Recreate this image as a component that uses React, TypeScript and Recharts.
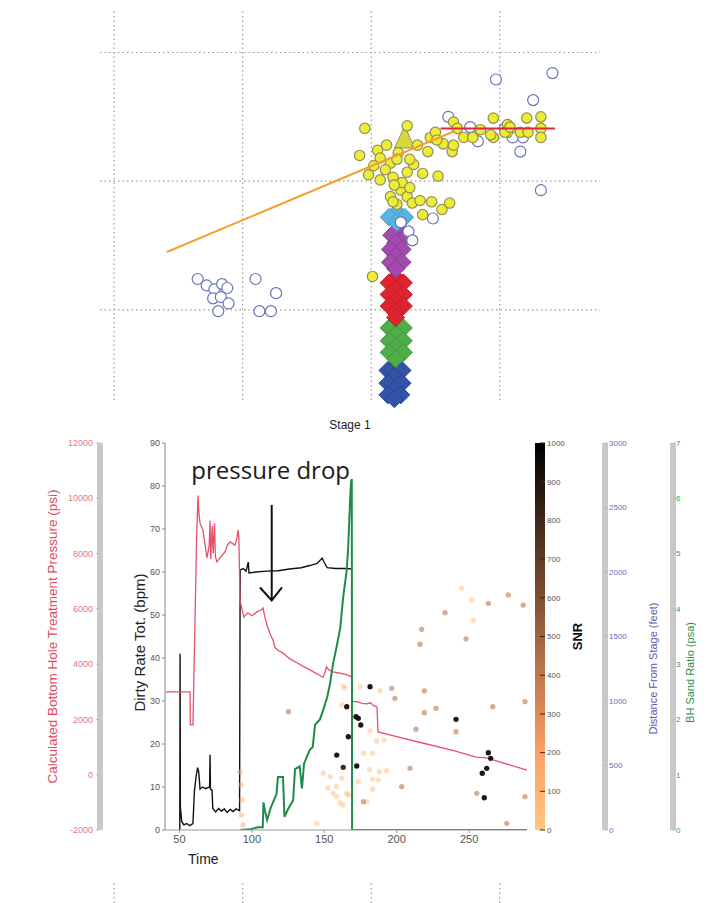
import React from 'react';
import {
  ScatterChart, ComposedChart, Scatter, Line, XAxis, YAxis, ZAxis,
  ReferenceLine, ReferenceDot, Cell,
} from 'recharts';

// ---------- top panel: microseismic event map (grid spacing = 100 units)
const gridX = [0, 100, 200, 300];
const gridY = [0, 100, 200];

const openEvents = [
  { x: 65, y: 24 }, { x: 72, y: 19 }, { x: 78, y: 16 }, { x: 84, y: 20 }, { x: 88, y: 17 },
  { x: 77, y: 9 }, { x: 83, y: 10 }, { x: 89, y: 5 }, { x: 81, y: -1 }, { x: 110, y: 24 },
  { x: 126, y: 13 }, { x: 113, y: -1 }, { x: 122, y: -1 },
  { x: 297, y: 179 }, { x: 341, y: 184 }, { x: 326, y: 163 }, { x: 316, y: 123 }, { x: 332, y: 93 },
  { x: 260, y: 150 }, { x: 283, y: 131 }, { x: 318, y: 134 }, { x: 277, y: 142 }, { x: 304, y: 141 },
  { x: 310, y: 134 }, { x: 223, y: 68 }, { x: 229, y: 61 }, { x: 232, y: 54 }, { x: 248, y: 71 },
];

const yellowEvents = [
  { x: 195, y: 141 }, { x: 228, y: 143 }, { x: 191, y: 120 }, { x: 205, y: 124 }, { x: 207, y: 118 },
  { x: 215, y: 114 }, { x: 221, y: 122 }, { x: 198, y: 105 }, { x: 207, y: 101 }, { x: 217, y: 103 },
  { x: 228, y: 107 }, { x: 233, y: 113 }, { x: 240, y: 106 }, { x: 252, y: 104 }, { x: 244, y: 123 },
  { x: 246, y: 134 }, { x: 250, y: 138 }, { x: 256, y: 129 }, { x: 263, y: 123 }, { x: 264, y: 128 },
  { x: 264, y: 146 }, { x: 267, y: 141 }, { x: 272, y: 134 }, { x: 279, y: 134 }, { x: 295, y: 149 },
  { x: 295, y: 134 }, { x: 306, y: 144 }, { x: 306, y: 138 }, { x: 316, y: 138 }, { x: 321, y: 149 },
  { x: 332, y: 150 }, { x: 332, y: 141 }, { x: 332, y: 134 }, { x: 215, y: 88 }, { x: 223, y: 93 },
  { x: 228, y: 88 }, { x: 220, y: 82 }, { x: 232, y: 83 }, { x: 238, y: 85 }, { x: 247, y: 84 },
  { x: 255, y: 78 }, { x: 261, y: 83 }, { x: 240, y: 74 }, { x: 220, y: 117 }, { x: 230, y: 117 },
  { x: 201, y: 26 }, { x: 251, y: 132 }, { x: 224, y: 99 }, { x: 217, y: 84 }, { x: 230, y: 95 },
  { x: 293, y: 136 }, { x: 304, y: 138 }, { x: 308, y: 142 }, { x: 322, y: 138 }, { x: 211, y: 109 },
  { x: 218, y: 97 }, { x: 212, y: 128 }, { x: 236, y: 128 }, { x: 202, y: 112 }, { x: 285, y: 140 },
];

const cyanStage = [{ x: 220, y: 76 }, { x: 214, y: 72 }, { x: 226, y: 72 }, { x: 220, y: 68 }];
const purpleStage = [
  { x: 221, y: 62 }, { x: 216, y: 58 }, { x: 226, y: 56 }, { x: 219, y: 52 }, { x: 215, y: 47 },
  { x: 224, y: 47 }, { x: 219, y: 42 }, { x: 215, y: 37 }, { x: 224, y: 37 }, { x: 219, y: 32 },
];
const redStage = [
  { x: 219, y: 25 }, { x: 214, y: 21 }, { x: 225, y: 21 }, { x: 219, y: 16 }, { x: 214, y: 12 },
  { x: 225, y: 12 }, { x: 219, y: 7 }, { x: 214, y: 3 }, { x: 225, y: 3 }, { x: 219, y: -2 }, { x: 219, y: -6 },
];
const greenStage = [
  { x: 219, y: -10 }, { x: 214, y: -14 }, { x: 225, y: -14 }, { x: 219, y: -19 }, { x: 214, y: -24 },
  { x: 225, y: -24 }, { x: 219, y: -29 }, { x: 214, y: -33 }, { x: 225, y: -33 }, { x: 219, y: -38 },
];
const blueStage = [
  { x: 219, y: -43 }, { x: 213, y: -47 }, { x: 224, y: -47 }, { x: 218, y: -52 }, { x: 213, y: -57 },
  { x: 224, y: -57 }, { x: 218, y: -62 }, { x: 213, y: -66 }, { x: 223, y: -66 }, { x: 218, y: -69 },
];
const triangleEvents = [{ x: 226, y: 132 }];
const orangeFit = [{ x: 41, y: 45 }, { x: 265, y: 139 }];
const redFit = [{ x: 254, y: 141 }, { x: 343, y: 141 }];

// ---------- bottom panel: treatment data
const timeTicks = [50, 100, 150, 200, 250];
const rateTicks = [0, 10, 20, 30, 40, 50, 60, 70, 80, 90];
const pressureTicks = [-2000, 0, 2000, 4000, 6000, 8000, 10000, 12000];
const snrTicks = [0, 100, 200, 300, 400, 500, 600, 700, 800, 900, 1000];
const distTicks = [0, 500, 1000, 1500, 2000, 2500, 3000];
const sandTicks = [0, 1, 2, 3, 4, 5, 6, 7];

const pressure = [
  { t: 40.5, p: 3000 }, { t: 57.3, p: 3000 }, { t: 57.5, p: 1800 }, { t: 59.3, p: 1800 }, { t: 60.5, p: 5000 },
  { t: 61.8, p: 8500 }, { t: 62.8, p: 10100 }, { t: 63.5, p: 9400 }, { t: 64.2, p: 9100 }, { t: 66.2, p: 8850 },
  { t: 68, p: 8200 }, { t: 69, p: 7840 }, { t: 70.5, p: 8300 }, { t: 71.1, p: 9200 }, { t: 71.6, p: 7800 },
  { t: 72.6, p: 9000 }, { t: 73.3, p: 8000 }, { t: 74.2, p: 9100 }, { t: 74.8, p: 7900 }, { t: 75.9, p: 7700 },
  { t: 78, p: 7850 }, { t: 81.4, p: 8060 }, { t: 83, p: 8300 }, { t: 84.9, p: 8420 }, { t: 87, p: 8350 },
  { t: 88.3, p: 8300 }, { t: 89.7, p: 8560 }, { t: 90.4, p: 8850 }, { t: 91, p: 8600 }, { t: 91.8, p: 6300 },
  { t: 93.2, p: 6000 }, { t: 94.5, p: 5700 }, { t: 96, p: 5800 }, { t: 97.3, p: 5850 }, { t: 100, p: 5750 },
  { t: 103.5, p: 5890 }, { t: 106, p: 5950 }, { t: 107.7, p: 6030 }, { t: 109, p: 5700 }, { t: 110.5, p: 5400 },
  { t: 112.5, p: 5100 }, { t: 114.6, p: 4870 }, { t: 116, p: 4600 }, { t: 118, p: 4500 }, { t: 121.5, p: 4400 },
  { t: 126, p: 4200 }, { t: 131.2, p: 4050 }, { t: 136, p: 3900 }, { t: 140.1, p: 3790 }, { t: 145, p: 3650 },
  { t: 149.1, p: 3520 }, { t: 150.5, p: 3700 }, { t: 151.5, p: 3900 }, { t: 153, p: 3800 }, { t: 156, p: 3720 },
  { t: 160, p: 3680 }, { t: 165.7, p: 3610 }, { t: 169, p: 3540 }, { t: 169.5, p: 2650 }, { t: 173, p: 2640 },
  { t: 176, p: 2580 }, { t: 179, p: 2560 }, { t: 182, p: 2600 }, { t: 184, p: 2500 }, { t: 186.4, p: 2450 },
  { t: 187.1, p: 1550 }, { t: 200, p: 1380 }, { t: 220, p: 1120 }, { t: 240, p: 860 }, { t: 255, p: 640 },
  { t: 262, p: 610 }, { t: 270, p: 480 }, { t: 290, p: 170 },
];

const rate = [
  { t: 50.2, r: 0 }, { t: 50.4, r: 41 }, { t: 50.6, r: 5.5 }, { t: 51.5, r: 2 }, { t: 53, r: 1.2 },
  { t: 55, r: 1.5 }, { t: 57, r: 1 }, { t: 59.3, r: 1.5 }, { t: 60.3, r: 9 }, { t: 61.5, r: 12.5 },
  { t: 62.5, r: 14.5 }, { t: 63.3, r: 13.5 }, { t: 64.2, r: 9.5 }, { t: 66, r: 10 }, { t: 68, r: 9.6 },
  { t: 70.8, r: 10 }, { t: 71.1, r: 17.5 }, { t: 71.4, r: 9.5 }, { t: 72.5, r: 9.2 }, { t: 73, r: 5 },
  { t: 75, r: 4.2 }, { t: 77, r: 5 }, { t: 79, r: 4.4 }, { t: 81, r: 4.9 }, { t: 83, r: 4.1 },
  { t: 85, r: 4.8 }, { t: 87, r: 4.3 }, { t: 89, r: 4.9 }, { t: 91.5, r: 4.5 }, { t: 91.9, r: 60.5 },
  { t: 94, r: 60.8 }, { t: 96, r: 60.2 }, { t: 97.5, r: 62.3 }, { t: 98, r: 59.8 }, { t: 103, r: 60 },
  { t: 110, r: 60.2 }, { t: 118, r: 60.3 }, { t: 126, r: 60.7 }, { t: 134, r: 61 }, { t: 140, r: 61.5 },
  { t: 145, r: 62 }, { t: 148.5, r: 63.2 }, { t: 150, r: 62.2 }, { t: 152, r: 61 }, { t: 158, r: 60.8 },
  { t: 165, r: 60.8 }, { t: 169, r: 60.7 },
];

const sand = [
  { t: 92, s: 0 }, { t: 100, s: 0.02 }, { t: 104, s: 0.05 }, { t: 107.5, s: 0.05 }, { t: 108, s: 0.5 },
  { t: 109, s: 0.35 }, { t: 110.5, s: 0.18 }, { t: 113, s: 0.4 }, { t: 117, s: 0.65 }, { t: 118, s: 0.96 },
  { t: 121.5, s: 0.96 }, { t: 122.5, s: 0.24 }, { t: 125, s: 0.38 }, { t: 128.5, s: 0.54 }, { t: 129.8, s: 1.1 },
  { t: 133, s: 1.15 }, { t: 134.6, s: 0.75 }, { t: 136, s: 1.2 }, { t: 140, s: 1.45 }, { t: 142, s: 1.5 },
  { t: 143.6, s: 1.9 }, { t: 147, s: 2.0 }, { t: 149, s: 2.15 }, { t: 152, s: 2.4 }, { t: 154, s: 2.65 },
  { t: 156, s: 3.0 }, { t: 158.8, s: 3.35 }, { t: 161, s: 3.65 }, { t: 163, s: 4.2 }, { t: 165.5, s: 4.7 },
  { t: 166.5, s: 5.1 }, { t: 167.8, s: 5.95 }, { t: 168.5, s: 6.3 }, { t: 169, s: 6.35 }, { t: 169.2, s: 0 },
  { t: 290, s: 0 },
];

// microseismic events: time, distance from stage (ft), SNR
const events = [
  { t: 244.9, d: 1874, snr: 80 }, { t: 251.8, d: 1783, snr: 80 }, { t: 277.1, d: 1822, snr: 450 },
  { t: 287.4, d: 1744, snr: 450 }, { t: 263.3, d: 1757, snr: 450 }, { t: 233.4, d: 1685, snr: 450 },
  { t: 252.9, d: 1623, snr: 80 }, { t: 217.3, d: 1556, snr: 450 }, { t: 247.9, d: 1481, snr: 450 },
  { t: 216.1, d: 1440, snr: 450 }, { t: 181.6, d: 1111, snr: 950 }, { t: 196.6, d: 1098, snr: 450 },
  { t: 188.5, d: 1078, snr: 80 }, { t: 219.1, d: 1078, snr: 450 }, { t: 174.7, d: 1111, snr: 80 },
  { t: 163.1, d: 1116, snr: 80 }, { t: 198.8, d: 1021, snr: 450 }, { t: 266.3, d: 956, snr: 450 },
  { t: 288.6, d: 995, snr: 450 }, { t: 227.2, d: 943, snr: 450 }, { t: 219.1, d: 909, snr: 450 },
  { t: 241, d: 858, snr: 950 }, { t: 241, d: 762, snr: 450 }, { t: 213.3, d: 781, snr: 450 },
  { t: 175.2, d: 814, snr: 950 }, { t: 171.9, d: 878, snr: 950 }, { t: 165.5, d: 956, snr: 950 },
  { t: 181.6, d: 770, snr: 80 }, { t: 186.2, d: 690, snr: 80 }, { t: 191.2, d: 698, snr: 80 },
  { t: 158.6, d: 581, snr: 950 }, { t: 177, d: 595, snr: 80 }, { t: 183.4, d: 595, snr: 80 },
  { t: 263.3, d: 599, snr: 950 }, { t: 264.9, d: 556, snr: 950 }, { t: 262.2, d: 478, snr: 950 },
  { t: 259.1, d: 440, snr: 950 }, { t: 163.1, d: 486, snr: 900 }, { t: 172.4, d: 496, snr: 950 },
  { t: 181.1, d: 470, snr: 80 }, { t: 188, d: 452, snr: 80 }, { t: 193.1, d: 460, snr: 80 },
  { t: 209.2, d: 478, snr: 450 }, { t: 183.4, d: 395, snr: 80 }, { t: 187.3, d: 388, snr: 80 },
  { t: 173.5, d: 374, snr: 80 }, { t: 162, d: 401, snr: 80 }, { t: 158.6, d: 336, snr: 80 },
  { t: 203.5, d: 336, snr: 450 }, { t: 183.4, d: 316, snr: 80 }, { t: 255.3, d: 284, snr: 450 },
  { t: 260.5, d: 250, snr: 950 }, { t: 288.6, d: 258, snr: 450 }, { t: 179.3, d: 219, snr: 80 },
  { t: 166.6, d: 271, snr: 80 }, { t: 160.9, d: 212, snr: 80 }, { t: 276, d: 52, snr: 450 },
  { t: 156.2, d: 284, snr: 80 }, { t: 125.2, d: 917, snr: 450 }, { t: 154, d: 413, snr: 80 },
  { t: 149.3, d: 440, snr: 80 }, { t: 144.8, d: 52, snr: 80 }, { t: 162, d: 969, snr: 80 },
  { t: 164.3, d: 1101, snr: 80 }, { t: 166.6, d: 723, snr: 950 }, { t: 173.5, d: 866, snr: 950 },
  { t: 158.6, d: 258, snr: 80 }, { t: 165.5, d: 284, snr: 80 }, { t: 177, d: 219, snr: 450 },
  { t: 162.9, d: 194, snr: 80 }, { t: 152.6, d: 326, snr: 80 },
  { t: 92.5, d: 349, snr: 200 }, { t: 93.2, d: 233, snr: 200 }, { t: 92.5, d: 116, snr: 200 },
  { t: 93.9, d: 39, snr: 200 }, { t: 91.8, d: 450, snr: 200 },
];

const arrowShaft = [{ t: 113.7, r: 75.6 }, { t: 113.7, r: 53.6 }];
const arrowHead = [{ t: 105.6, r: 56.4 }, { t: 113.7, r: 53.4 }, { t: 120.8, r: 56.4 }];

// reversed "copper" colormap: 0 -> light orange, 1000 -> black
const copper = (snr: number) => {
  const k = 1 - snr / 1000;
  const r = Math.min(1, 1.25 * k);
  const g = 0.7812 * k;
  const b = 0.4975 * k;
  return `rgb(${Math.round(r * 255)},${Math.round(g * 255)},${Math.round(b * 255)})`;
};

const diamond = (fill: string, stroke: string) => (props: any) => {
  const { cx, cy } = props;
  return (
    <polygon
      points={`${cx},${cy - 9} ${cx + 9},${cy} ${cx},${cy + 9} ${cx - 9},${cy}`}
      fill={fill}
      stroke={stroke}
      strokeWidth={1}
    />
  );
};

const spike = (props: any) => {
  const { cx, cy } = props;
  return (
    <polygon
      points={`${cx},${cy - 14} ${cx + 10},${cy + 8} ${cx - 10},${cy + 8}`}
      fill="#d6d83c"
      stroke="#8f8f5c"
      strokeWidth={1}
    />
  );
};

const dot = (fill: string, stroke: string, r: number) => (props: any) => (
  <circle cx={props.cx} cy={props.cy} r={r} fill={fill} stroke={stroke} strokeWidth={1.2} />
);

const noShape = () => <g />;

const PLOT_TOP = 10;
const PLOT_H = 387;

// axis ids are sorted by name when stacked, so the prefixes fix the order
const Y_RATE = 'L1rate';
const Y_PRESS = 'L2press';
const Y_GAP = 'R1gap';
const Y_SNR = 'R2snr';
const Y_DIST = 'R3dist';
const Y_SAND = 'R4sand';

export default function App() {
  const tickFont = { fontSize: 9, fill: '#555' };

  return (
    <div style={{ position: 'absolute', left: 0, top: 0, width: 718, height: 903, background: '#fff', fontFamily: '"Liberation Sans", Arial, sans-serif' }}>
      {/* event map */}
      <div style={{ position: 'absolute', left: 0, top: 0 }}>
        <ScatterChart width={718} height={450} margin={{ top: 10, right: 118, bottom: 0, left: 100 }}>
          <XAxis
            type="number" dataKey="x" domain={[-11, 378]} height={50}
            tick={false} tickLine={false} axisLine={false}
            label={{ value: 'Stage 1', position: 'center', fontSize: 12, fill: '#222' }}
          />
          <YAxis type="number" dataKey="y" domain={[-70, 233]} hide />
          {gridX.map((v) => (
            <ReferenceLine key={`gx${v}`} x={v} stroke="#9a9a9a" strokeWidth={1.2} strokeDasharray="1.5 3" />
          ))}
          {gridY.map((v) => (
            <ReferenceLine key={`gy${v}`} y={v} stroke="#9a9a9a" strokeWidth={1.2} strokeDasharray="1.5 3" />
          ))}
          <Scatter data={blueStage} shape={diamond('#3553a6', '#2a4590')} isAnimationActive={false} />
          <Scatter data={greenStage} shape={diamond('#4fae4a', '#3d9a3a')} isAnimationActive={false} />
          <Scatter data={redStage} shape={diamond('#e0242f', '#c01c28')} isAnimationActive={false} />
          <Scatter data={purpleStage} shape={diamond('#a24aae', '#8c3a98')} isAnimationActive={false} />
          <Scatter data={cyanStage} shape={diamond('#5ab4e2', '#4a9cc8')} isAnimationActive={false} />
          <Scatter data={openEvents} shape={dot('#fff', '#6676b4', 5.5)} isAnimationActive={false} />
          <Scatter data={triangleEvents} shape={spike} isAnimationActive={false} />
          <Scatter data={yellowEvents} shape={dot('#eeec34', '#8f8f5c', 5.2)} isAnimationActive={false} />
          <Scatter data={orangeFit} shape={noShape} line={{ stroke: '#f2a12e', strokeWidth: 2 }} isAnimationActive={false} />
          <Scatter data={redFit} shape={noShape} line={{ stroke: '#d42a48', strokeWidth: 2 }} isAnimationActive={false} />
        </ScatterChart>
      </div>

      {/* treatment plot */}
      <div style={{ position: 'absolute', left: 0, top: 433 }}>
        <ComposedChart width={718} height={454} margin={{ top: PLOT_TOP, right: 5, bottom: 0, left: 10 }}>
          <defs>
            <linearGradient id="snrGrad" gradientUnits="userSpaceOnUse" x1={0} y1={PLOT_TOP + PLOT_H} x2={0} y2={PLOT_TOP}>
              <stop offset="0" stopColor={copper(0)} />
              <stop offset="0.2" stopColor={copper(200)} />
              <stop offset="0.5" stopColor={copper(500)} />
              <stop offset="0.8" stopColor={copper(800)} />
              <stop offset="1" stopColor={copper(1000)} />
            </linearGradient>
          </defs>
          <XAxis
            type="number" dataKey="t" domain={[40, 290]} ticks={timeTicks} height={57}
            stroke="#999" tickSize={3} tickMargin={2} tick={{ fontSize: 11, fill: '#555' }}
            label={{ value: 'Time', position: 'insideBottomLeft', offset: 23, fontSize: 14, fill: '#222' }}
          />
          <YAxis
            yAxisId={Y_RATE} type="number" domain={[0, 90]} ticks={rateTicks} width={65} allowDataOverflow
            stroke="#888" tickSize={3} tickMargin={2} tick={tickFont}
            label={{ value: 'Dirty Rate Tot. (bpm)', angle: -90, position: 'insideLeft', offset: 40, dy: 6, fontSize: 15, fill: '#222', style: { textAnchor: 'middle' } }}
          />
          <YAxis
            yAxisId={Y_PRESS} type="number" domain={[-2000, 12000]} ticks={pressureTicks} width={90} allowDataOverflow
            axisLine={{ stroke: '#c9c9c9', strokeWidth: 6 }} tickLine={{ stroke: '#bbb' }}
            tickSize={4} tickMargin={3} tick={{ fontSize: 9, fill: '#e07585' }}
            label={{ value: 'Calculated Bottom Hole Treatment Pressure (psi)', angle: -90, position: 'insideLeft', offset: 42, fontSize: 13.5, fill: '#e0485c', style: { textAnchor: 'middle' } }}
          />
          <YAxis yAxisId={Y_GAP} orientation="right" width={13} domain={[0, 1]} allowDataOverflow tick={false} tickLine={false} axisLine={false} />
          <YAxis
            yAxisId={Y_SNR} orientation="right" type="number" domain={[0, 1000]} ticks={snrTicks} width={65} allowDataOverflow
            axisLine={{ stroke: 'url(#snrGrad)', strokeWidth: 10 }} tickLine={{ stroke: '#3a2010' }}
            tickSize={5} tickMargin={2} tick={{ fontSize: 8, fill: '#555' }}
            label={{ value: 'SNR', angle: -90, position: 'insideRight', offset: 28, fontSize: 13, fontWeight: 'bold', fill: '#111', style: { textAnchor: 'middle' } }}
          />
          <YAxis
            yAxisId={Y_DIST} orientation="right" type="number" dataKey="d" domain={[0, 3000]} ticks={distTicks} width={68} allowDataOverflow
            axisLine={{ stroke: '#c9c9c9', strokeWidth: 6 }} tickLine={{ stroke: '#aab' }}
            tickSize={2} tickMargin={2} tick={{ fontSize: 8, fill: '#6a6ac0' }}
            label={{ value: 'Distance From Stage (feet)', angle: -90, position: 'insideRight', offset: 20, dy: 32, fontSize: 11, fill: '#5a5ab0', style: { textAnchor: 'middle' } }}
          />
          <YAxis
            yAxisId={Y_SAND} orientation="right" type="number" domain={[0, 7]} ticks={sandTicks} width={40} allowDataOverflow
            axisLine={{ stroke: '#c9c9c9', strokeWidth: 6 }} tickLine={{ stroke: '#aba' }}
            tickSize={2} tickMargin={1} tick={{ fontSize: 8, fill: '#3a9a60' }}
            label={{ value: 'BH Sand Ratio (psa)', angle: -90, position: 'insideRight', offset: 23, dy: 36, fontSize: 11, fill: '#2e8e52', style: { textAnchor: 'middle' } }}
          />
          <ZAxis range={[22, 22]} />
          <Scatter yAxisId={Y_DIST} data={events} dataKey="d" isAnimationActive={false}>
            {events.map((e, i) => (
              <Cell key={`ev${i}`} fill={copper(e.snr)} fillOpacity={0.45 + 0.55 * (e.snr / 1000) ** 2} />
            ))}
          </Scatter>
          <Line yAxisId={Y_RATE} data={rate} dataKey="r" stroke="#111" strokeWidth={1.4} dot={false} isAnimationActive={false} />
          <Line yAxisId={Y_PRESS} data={pressure} dataKey="p" stroke="#e8506a" strokeWidth={1.3} dot={false} isAnimationActive={false} />
          <Line yAxisId={Y_SAND} data={sand} dataKey="s" stroke="#1f8a4c" strokeWidth={2} dot={false} isAnimationActive={false} />
          <Line yAxisId={Y_RATE} data={arrowShaft} dataKey="r" stroke="#111" strokeWidth={2} dot={false} isAnimationActive={false} />
          <Line yAxisId={Y_RATE} data={arrowHead} dataKey="r" stroke="#111" strokeWidth={2} dot={false} isAnimationActive={false} />
          <ReferenceDot
            yAxisId={Y_RATE} x={113} y={83.7} r={0} fill="none" stroke="none"
            label={{ value: 'pressure drop', position: 'center', fontSize: 24, fill: '#1a1a1a', fontFamily: '"Open Sans", sans-serif' }}
          />
        </ComposedChart>
      </div>

      {/* grid of the next panel, cut off at the page edge */}
      <div style={{ position: 'absolute', left: 0, top: 880 }}>
        <ScatterChart width={718} height={23} margin={{ top: 3, right: 118, bottom: 0, left: 100 }}>
          <XAxis type="number" dataKey="x" domain={[-11, 378]} hide />
          <YAxis type="number" dataKey="y" domain={[0, 1]} hide />
          {gridX.map((v) => (
            <ReferenceLine key={`bx${v}`} x={v} stroke="#9a9a9a" strokeWidth={1.2} strokeDasharray="1.5 3" />
          ))}
          <Scatter data={gridX.map((v) => ({ x: v, y: 0.5 }))} shape={noShape} isAnimationActive={false} />
        </ScatterChart>
      </div>
    </div>
  );
}
